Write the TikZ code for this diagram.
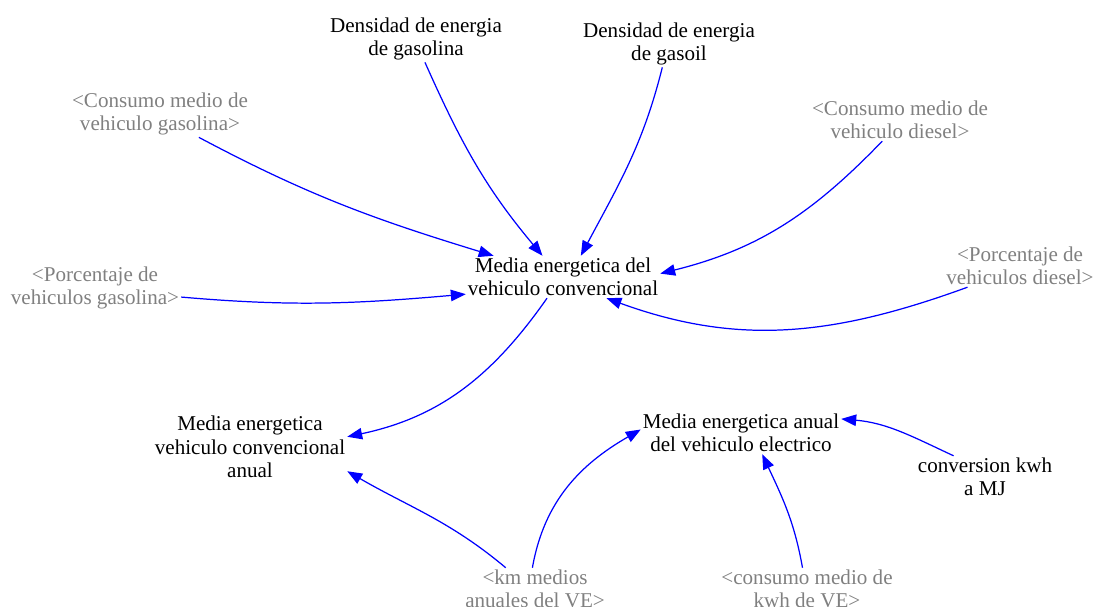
\documentclass[tikz,border=0pt]{standalone}
\usepackage{fontspec}
\setmainfont{Liberation Serif}
\usetikzlibrary{arrows.meta}
\definecolor{linkblue}{RGB}{0,0,255}
\definecolor{shadowgrey}{RGB}{128,128,128}
\begin{document}
\begin{tikzpicture}[x={(0.02cm,0)},y={(0,-0.02cm)},
  var/.style={align=center,inner sep=1pt,font=\fontsize{12}{13.3}\selectfont,text=black},
  shadow/.style={var,text=shadowgrey},
  link/.style={draw=linkblue,line width=0.7pt,-{Triangle[length=8.5pt,width=6.5pt]}}]
\useasboundingbox (0,0) rectangle (1097,607);
\node[var] (dg) at (416,39) {Densidad de energia\\de gasolina};
\node[var] (gg) at (669,44) {Densidad de energia\\de gasoil};
\node[shadow] (cg) at (160,114) {<Consumo medio de\\vehiculo gasolina>};
\node[shadow] (cd) at (900,120) {<Consumo medio de\\vehiculo diesel>};
\node[var] (mc) at (563,277) {Media energetica del\\vehiculo convencional};
\node[shadow] (pg) at (95,288) {<Porcentaje de\\vehiculos gasolina>};
\node[shadow] (pd) at (1020,266) {<Porcentaje de\\vehiculos diesel>};
\node[var] (ma) at (250,447) {Media energetica\\vehiculo convencional\\anual};
\node[var] (me) at (741,433) {Media energetica anual\\del vehiculo electrico};
\node[var] (cv) at (985,477) {conversion kwh\\a MJ};
\node[shadow] (km) at (535,589) {<km medios\\anuales del VE>};
\node[shadow] (ck) at (807,589) {<consumo medio de\\kwh de VE>};
\path[link] (dg.-69) to[out=-66,in=130] (mc.134);
\path[link] (gg.-106) to[out=-104,in=62] (mc.50);
\path[link] (cg.-31) to[out=-28,in=163] (mc.163);
\path[link] (pg.-6) to[out=-5,in=185] (mc.190);
\path[link] (cd.-130) to[out=-134,in=14] (mc.2);
\path[link] (pd.-158) to[out=-160,in=-20] (mc.-26);
\path[link] (mc.-127) to[out=-125,in=12] (ma.6);
\path[link] (km.144) to[out=140,in=-30] (ma.-14);
\path[link] (km.97) to[out=80,in=-150] (me.178);
\path[link] (ck.102) to[out=100,in=-65] (me.-45);
\path[link] (cv.146) to[out=155,in=-5] (me.8);
\end{tikzpicture}
\end{document}
